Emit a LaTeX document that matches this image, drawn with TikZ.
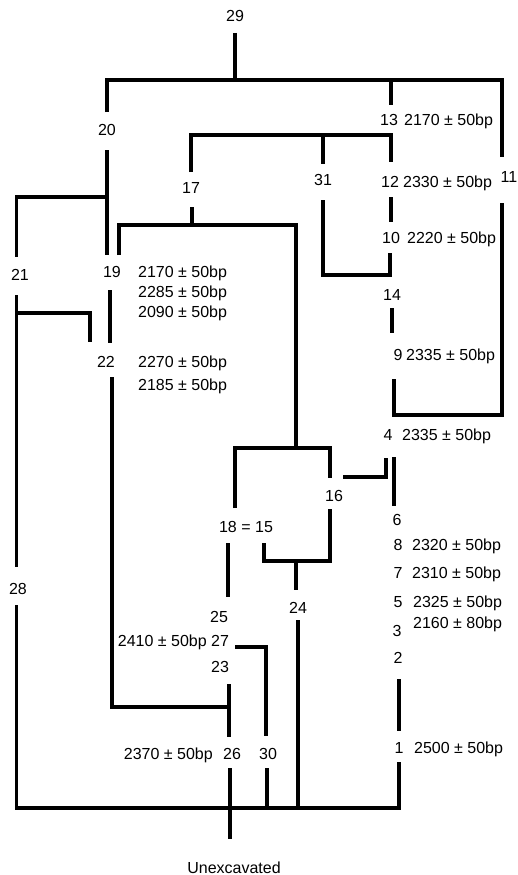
\documentclass[tikz,border=0pt]{standalone}
\usepackage{fontspec}
\setmainfont{Liberation Sans}
\begin{document}
\begin{tikzpicture}[x=1pt,y=-1pt,
  lab/.style={anchor=base,inner sep=0pt,font=\fontsize{16}{19}\selectfont},
  dat/.style={anchor=base west,inner sep=0pt,font=\fontsize{16}{19}\selectfont},
  datr/.style={anchor=base east,inner sep=0pt,font=\fontsize{16}{19}\selectfont},
  ln/.style={line width=3.2pt,line join=miter,line cap=butt}]
\useasboundingbox[fill=white] (0,0) rectangle (518,875);
% labels
\node[lab] (n29) at (235,22) {29};
\node[lab] (n20) at (107,135) {20};
\node[lab] (n17) at (191,193) {17};
\node[lab] (n21) at (20,280) {21};
\node[lab] (n19) at (112,277) {19};
\node[lab] (n13) at (389,125) {13};
\node[lab] (n12) at (390,187) {12};
\node[lab] (n31) at (323,185) {31};
\node[lab] (n11) at (509,182) {11};
\node[lab] (n10) at (391,243) {10};
\node[lab] (n14) at (392,300) {14};
\node[lab] (n9) at (398,360) {9};
\node[lab] (n4) at (388,440) {4};
\node[lab] (n16) at (334,501) {16};
\node[lab] (n6) at (397,525) {6};
\node[lab] (n18) at (246,532) {18 = 15};
\node[lab] (n8) at (398,550) {8};
\node[lab] (n7) at (398,578) {7};
\node[lab] (n5) at (398,607) {5};
\node[lab] (n3) at (397,636) {3};
\node[lab] (n2) at (398,663) {2};
\node[lab] (n1) at (399,753) {1};
\node[lab] (n24) at (298,613) {24};
\node[lab] (n25) at (219,622) {25};
\node[lab] (n27) at (220,646) {27};
\node[lab] (n23) at (220,672) {23};
\node[lab] (n26) at (232,759) {26};
\node[lab] (n30) at (268,759) {30};
\node[lab] (n28) at (18,594) {28};
\node[lab] (n22) at (106,367) {22};
\node[lab] (unex) at (234,873) {Unexcavated};
% dates
\node[dat] (d13) at (404,125) {2170 ± 50bp};
\node[dat] (d12) at (403,187) {2330 ± 50bp};
\node[dat] (d10) at (407,243) {2220 ± 50bp};
\node[dat] (d9) at (406,360) {2335 ± 50bp};
\node[dat] (d4) at (402,440) {2335 ± 50bp};
\node[dat] (d19a) at (138,277) {2170 ± 50bp};
\node[dat] (d19b) at (138,297) {2285 ± 50bp};
\node[dat] (d19c) at (138,317) {2090 ± 50bp};
\node[dat] (d22a) at (138,367) {2270 ± 50bp};
\node[dat] (d22b) at (138,390) {2185 ± 50bp};
\node[dat] (d8) at (412,550) {2320 ± 50bp};
\node[dat] (d7) at (412,578) {2310 ± 50bp};
\node[dat] (d5) at (413,607) {2325 ± 50bp};
\node[dat] (d3) at (413,628) {2160 ± 80bp};
\node[dat] (d1) at (414,753) {2500 ± 50bp};
\node[datr] (d27) at (207,646) {2410 ± 50bp};
\node[datr] (d26) at (213,759) {2370 ± 50bp};
% connectors
\draw[ln] (235,33) -- (235,80);
\draw[ln] (107,112) -- (107,80) -- (502,80) -- (502,157);
\draw[ln] (391,80) -- (391,105);
\draw[ln] (502,203) -- (502,415) -- (394,415) -- (394,379);
\draw[ln] (107,150) -- (107,255);
\draw[ln] (107,197) -- (16.5,197) -- (16.5,257);
\draw[ln] (191,172) -- (191,135) -- (391,135) -- (391,162);
\draw[ln] (323,135) -- (323,164);
\draw[ln] (323,200) -- (323,275) -- (390,275) -- (390,253);
\draw[ln] (391,197) -- (391,222);
\draw[ln] (392,308) -- (392,333);
\draw[ln] (192,207) -- (192,225);
\draw[ln] (119,255) -- (119,225) -- (296,225) -- (296,448);
\draw[ln] (235,508) -- (235,448) -- (330,448) -- (330,478);
\draw[ln] (343,477) -- (386,477) -- (386,458);
\draw[ln] (394,457) -- (394,506);
\draw[ln] (110,290) -- (110,343);
\draw[ln] (16.5,295) -- (16.5,567);
\draw[ln] (16.5,313) -- (90,313) -- (90,342);
\draw[ln] (112,377) -- (112,707) -- (229,707);
\draw[ln] (229,684) -- (229,737);
\draw[ln] (228,543) -- (228,597);
\draw[ln] (264,543) -- (264,561) -- (330,561) -- (330,509);
\draw[ln] (296,561) -- (296,590);
\draw[ln] (298,620) -- (298,808);
\draw[ln] (235,647) -- (266,647) -- (266,736);
\draw[ln] (399,679) -- (399,731);
\draw[ln] (16.5,605) -- (16.5,808) -- (399,808) -- (399,762);
\draw[ln] (267,768) -- (267,808);
\draw[ln] (230,768) -- (230,839);
\end{tikzpicture}
\end{document}
